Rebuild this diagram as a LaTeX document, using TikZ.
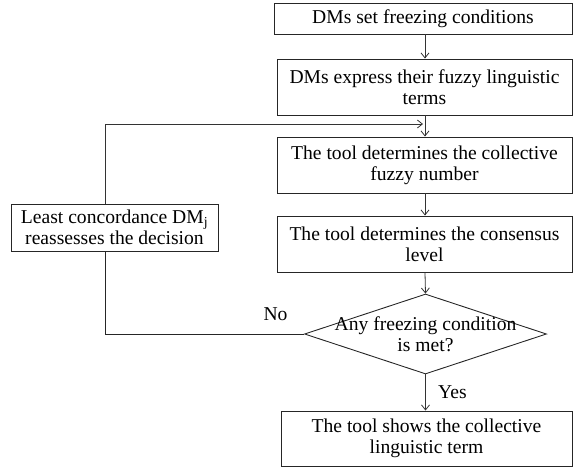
\documentclass[tikz,border=0pt]{standalone}
\usepackage{fontspec}
\setmainfont{Liberation Serif}
\usetikzlibrary{shapes.geometric,arrows.meta}
\tikzset{
  x=1pt, y=1pt,
  txt/.style={font=\fontsize{19.6}{21}\selectfont, align=center, inner sep=0pt},
  procbox/.style={txt, draw=black!85, line width=0.9pt},
  decbox/.style={diamond, draw=black!85, line width=0.9pt, inner sep=0pt},
  flow/.style={draw=black!80, line width=0.8pt, -{Straight Barb[length=5pt,width=8pt]}},
  plain/.style={draw=black!85, line width=0.9pt},
  lbl/.style={txt}
}
\begin{document}
\begin{tikzpicture}
\useasboundingbox (0,0) rectangle (574,-469);

% main column
\node[procbox, minimum width=298pt, minimum height=31pt] (b1) at (423,-18.5) {DMs set freezing conditions};
\node[procbox, minimum width=295pt, minimum height=56pt] (b2) at (424.5,-87) {DMs express their fuzzy linguistic\\terms};
\node[procbox, minimum width=295pt, minimum height=56pt] (b3) at (424.5,-165) {The tool determines the collective\\fuzzy number};
\node[procbox, minimum width=295pt, minimum height=56pt] (b4) at (424.5,-244) {The tool determines the consensus\\level};
\node[decbox, minimum width=242pt, minimum height=80pt] (dec) at (425.5,-334) {};
\node[txt] (dectext) at (dec.center) {Any freezing condition\\is met?};
\node[procbox, minimum width=291pt, minimum height=55pt] (b5) at (426.5,-438.5) {The tool shows the collective\\linguistic term};

% feedback box
\node[procbox, minimum width=207pt, minimum height=47pt] (lb) at (114.5,-227.5) {Least concordance DM\textsubscript{j}\\reassesses the decision};

% merge point of the feedback loop
\coordinate (merge) at (425,-124);

% main arrows
\draw[flow] (b1.south -| merge) -- (b2.north -| merge);
\draw[flow] (b2.south -| merge) -- (b3.north -| merge);
\draw[flow] (b3.south -| merge) -- (b4.north -| merge);
\draw[flow] (b4.south -| merge) -- (dec.north);
\draw[flow] (dec.south) -- (b5.north -| dec.south);

% feedback loop
\draw[plain] (dec.west) -| ([xshift=-9.5pt]lb.south);
\draw[flow] ([xshift=-9.5pt]lb.north) |- ([xshift=-2pt]merge);

% branch labels
\node[lbl] (nolbl) at (275.5,-314) {No};
\node[lbl] (yeslbl) at (452.5,-392) {Yes};
\end{tikzpicture}
\end{document}
